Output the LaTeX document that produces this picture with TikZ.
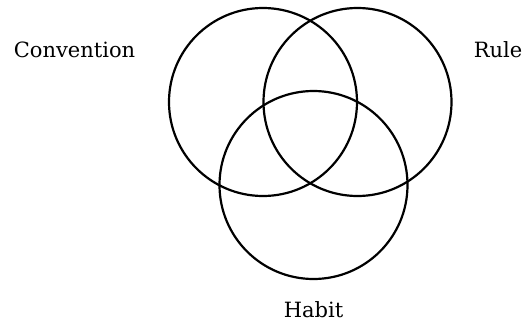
\documentclass[tikz,border=0pt]{standalone}
\usepackage{fontspec}
\setmainfont{DejaVu Serif}
\usepackage{tikz}
\usetikzlibrary{positioning, calc}

\begin{document}
\begin{tikzpicture}[x=1pt, y=-1pt,
  every node/.style={font=\fontsize{21}{26}\selectfont},
  venn/.style={circle, draw, line width=2.2pt, minimum size=188pt, inner sep=0pt},
  tag/.style={inner sep=0pt, anchor=base}
]
\useasboundingbox (0,0) rectangle (525,327);
\node[venn] (conv) at (263,102) {};
\node[venn] (rule) at (357.5,102) {};
\node[venn] (habit) at (313.5,185) {};

\node[tag] (convlabel) at (74.5,57.5) {Convention};
\node[tag] (rulelabel) at (498,57.5) {Rule};
\node[tag] (habitlabel) at (313.5,317.5) {Habit};
\end{tikzpicture}
\end{document}
